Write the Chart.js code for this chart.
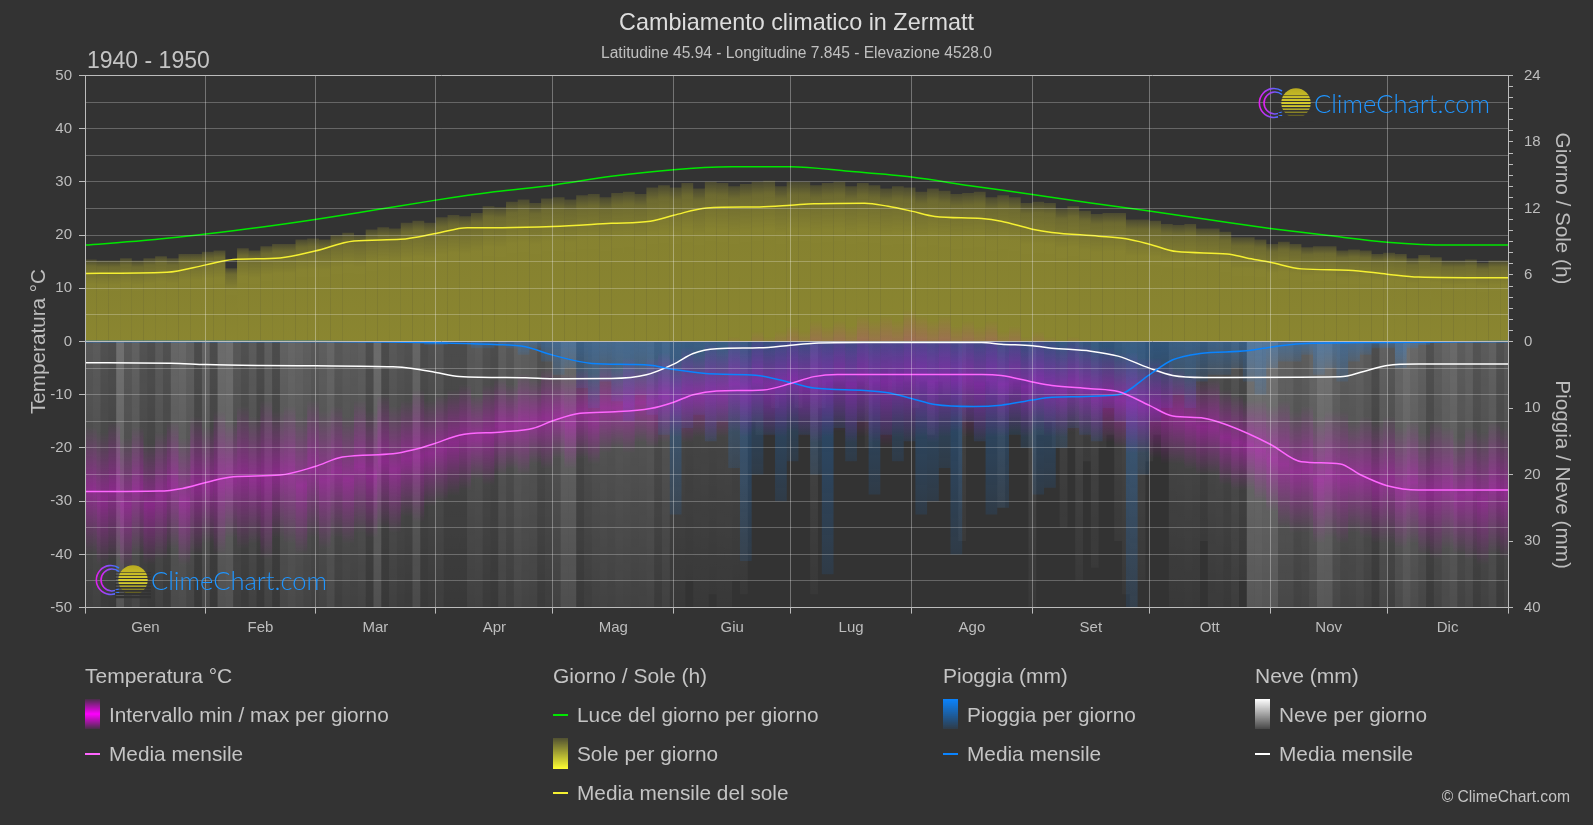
<!DOCTYPE html>
<html>
<head>
<meta charset="utf-8">
<title>Cambiamento climatico in Zermatt</title>
<script src="https://cdn.jsdelivr.net/npm/chart.js@4"></script>
<style>
    html, body { margin: 0; padding: 0; background: #333333; }
    body { width: 1593px; height: 825px; position: relative; overflow: hidden; font-family: "Liberation Sans", Arial, sans-serif; color: #c4c4c4; }
    canvas { position: absolute; left: 0; top: 0; }
    .txt { position: absolute; white-space: nowrap; transform: translateY(-50%); font-size: 20.8px; }
    .head { font-size: 21px; }
    .swatch { position: absolute; width: 15px; }
    .dash { position: absolute; width: 15px; height: 2px; }
    .logo { position: absolute; width: 240px; height: 40px; }
    .logo span { position: absolute; left: 66px; top: 5px; font-family: Lato, sans-serif; font-weight: 300; font-size: 25.5px; color: #1f95ff; white-space: nowrap; }
</style>
</head>
<body>
<canvas id="myChart" width="1593" height="825"></canvas>

<div class="txt" style="left:87px; top:60px; font-size:23px;">1940 - 1950</div>

<div class="logo" id="logoTop" style="left:1248px; top:83px;"></div>
<div class="logo" id="logoBottom" style="left:85px; top:560px;"></div>

<!-- legend -->
<div class="txt head" style="left:85px; top:676px;">Temperatura °C</div>
<div class="swatch" style="left:85px; top:699px; height:30px; background:linear-gradient(rgba(255,0,255,0.1),#ff00ff 50%,rgba(255,0,255,0.1));"></div>
<div class="txt" style="left:109px; top:715px;">Intervallo min / max per giorno</div>
<div class="dash" style="left:85px; top:753px; background:#ff66ff;"></div>
<div class="txt" style="left:109px; top:754px;">Media mensile</div>

<div class="txt head" style="left:553px; top:676px;">Giorno / Sole (h)</div>
<div class="dash" style="left:553px; top:714px; background:#00e600;"></div>
<div class="txt" style="left:577px; top:715px;">Luce del giorno per giorno</div>
<div class="swatch" style="left:553px; top:738px; height:31px; background:linear-gradient(rgba(255,255,50,0.15),#ffff33);"></div>
<div class="txt" style="left:577px; top:754px;">Sole per giorno</div>
<div class="dash" style="left:553px; top:792px; background:#f5f032;"></div>
<div class="txt" style="left:577px; top:793px;">Media mensile del sole</div>

<div class="txt head" style="left:943px; top:676px;">Pioggia (mm)</div>
<div class="swatch" style="left:943px; top:699px; height:30px; background:linear-gradient(#0a84ff,rgba(10,132,255,0.1));"></div>
<div class="txt" style="left:967px; top:715px;">Pioggia per giorno</div>
<div class="dash" style="left:943px; top:753px; background:#0a84ff;"></div>
<div class="txt" style="left:967px; top:754px;">Media mensile</div>

<div class="txt head" style="left:1255px; top:676px;">Neve (mm)</div>
<div class="swatch" style="left:1255px; top:699px; height:30px; background:linear-gradient(#ffffff,rgba(255,255,255,0.1));"></div>
<div class="txt" style="left:1279px; top:715px;">Neve per giorno</div>
<div class="dash" style="left:1255px; top:753px; background:#ffffff;"></div>
<div class="txt" style="left:1279px; top:754px;">Media mensile</div>

<div class="txt" style="right:23px; top:797px; font-size:15.7px;">© ClimeChart.com</div>

<script>
const chartTitle = 'Cambiamento climatico in Zermatt';
const chartSubtitle = 'Latitudine 45.94 - Longitudine 7.845 - Elevazione 4528.0';
const months = ['Gen', 'Feb', 'Mar', 'Apr', 'Mag', 'Giu', 'Lug', 'Ago', 'Set', 'Ott', 'Nov', 'Dic'];
const monthStarts = [0, 31, 59, 90, 120, 151, 181, 212, 243, 273, 304, 334, 365];
const monthMiddles = [15.5, 45, 74.5, 105, 135.5, 166, 196.5, 227.5, 258, 288.5, 319, 349.5];

// daily columns, one value for every 3 days of the year
const tempMax = [
    -16, -17, -15, -18, -16, -19, -17, -15, -18, -14, -16,
    -13, -15, -12, -14, -11, -13, -12, -14, -11, -13,
    -12, -14, -11, -13, -10, -12, -11, -9, -11, -10,
    -9, -8, -10, -8, -7, -8, -6, -7, -5, -6,
    -6, -5, -6, -4, -5, -3, -4, -3, -2, -3,
    -1, -2, 0, -1, 1, 0, 2, 1, 2, 3,
    2, 4, 3, 4, 3, 5, 4, 5, 4, 6,
    5, 4, 5, 3, 4, 3, 4, 2, 3, 1,
    2, 1, 0, 1, 0, -1, -1, -2, -2, -3,
    -3, -4, -5, -6, -7, -7, -9, -10, -11, -11,
    -12, -11, -13, -12, -14, -13, -13, -15, -14, -15,
    -14, -16, -15, -17, -15, -16, -18, -16, -17, -15, -16
];
const tempMin = [
    -40, -42, -41, -43, -40, -42, -41, -39, -42, -40, -38,
    -40, -37, -39, -38, -41, -37, -38, -40, -37, -39,
    -37, -38, -36, -37, -35, -36, -33, -34, -31, -30,
    -29, -28, -26, -27, -25, -24, -25, -23, -24, -22,
    -24, -22, -23, -21, -20, -21, -19, -20, -19, -18,
    -19, -18, -19, -18, -17, -18, -17, -18, -18, -17,
    -18, -19, -18, -17, -19, -18, -19, -20, -18, -19,
    -18, -19, -18, -17, -18, -19, -18, -18, -17, -18,
    -17, -18, -18, -17, -18, -19, -19, -20, -21, -21,
    -22, -23, -23, -24, -25, -25, -27, -28, -28, -30,
    -32, -35, -36, -36, -38, -37, -38, -36, -37, -38,
    -38, -39, -38, -40, -41, -39, -40, -41, -42, -40, -41
];
const sunDaily = [
    7.4, 7.3, 7.3, 7.5, 7.3, 7.5, 7.7, 7.5, 7.9, 7.9, 8.1,
    8.2, 6.6, 8.4, 8.2, 8.6, 8.8, 8.8, 9.2, 9.3, 9.2,
    9.6, 9.8, 9.6, 10.1, 10.3, 10.2, 10.7, 10.9, 10.7, 11.2,
    11.4, 11.3, 11.6, 12.2, 12.1, 12.6, 12.8, 12.5, 12.9, 13.0,
    12.8, 13.2, 13.3, 13.0, 13.4, 13.5, 13.3, 13.9, 14.1, 13.9,
    14.3, 13.8, 14.4, 14.3, 14.0, 14.2, 14.4, 14.5, 14.0, 14.4,
    14.4, 14.1, 14.3, 14.4, 14.0, 14.3, 14.1, 13.8, 14.0, 13.9,
    13.5, 13.8, 13.6, 13.3, 13.4, 13.5, 13.0, 13.2, 13.0, 12.5,
    12.6, 12.5, 12.0, 12.2, 11.8, 11.5, 11.6, 11.6, 11.0, 11.0,
    10.9, 10.6, 10.5, 10.6, 10.2, 10.2, 9.9, 9.4, 9.4, 9.2,
    8.8, 9.0, 8.8, 8.5, 8.6, 8.6, 8.2, 8.3, 8.2, 7.9,
    8.0, 7.9, 7.5, 7.8, 7.6, 7.3, 7.3, 7.4, 7.1, 7.3, 7.3
];
const rainDaily = [
    0, 0, 0, 0, 0, 0, 0, 0, 0, 0,
    0, 0, 0, 0, 0, 0, 0, 0, 0, 0,
    0, 0, 0, 0, 0, 0, 0, 0, 0, 0.5,
    0.5, 0, 0, 1, 1, 0.5, 1, 2, 1, 3,
    5, 4, 7, 10, 6, 9, 12, 8, 11, 14,
    26, 13, 11, 15, 12, 19, 33, 20, 14, 24,
    18, 14, 20, 35, 13, 18, 12, 23, 14, 18,
    15, 26, 24, 19, 32, 12, 15, 26, 25, 14,
    16, 23, 22, 16, 13, 14, 15, 10, 12, 40,
    20, 12, 10, 8, 10, 6, 5, 5, 4, 6,
    8, 4, 3, 3, 2, 5, 4, 6, 3, 2,
    1, 1, 4, 1, 0.5, 0, 0, 0, 0, 0, 0, 0
];
// snow columns, one value for every 2 days of the year
const snowDaily = [
    64, 72, 52, 45, 115, 68, 85, 55, 45, 72, 52, 94, 98, 82, 42, 88, 42, 105, 110, 65,
    52, 72, 42, 78, 42, 85, 94, 88, 78, 68, 78, 94, 65, 75, 72, 78, 45, 105, 42, 68,
    58, 52, 94, 42, 52, 62, 42, 42, 42, 68, 72, 52, 43, 78, 62, 85, 78, 75, 52, 62,
    72, 102, 102, 45, 62, 72, 75, 72, 78, 75, 72, 73, 78, 52, 72, 42, 42, 36, 40, 42,
    38, 40, 42, 36, 38, 12, 14, 8, 10, 8, 8, 10, 6, 38, 10, 6, 6, 6, 6, 6,
    16, 6, 4, 8, 4, 6, 10, 6, 14, 6, 8, 4, 30, 10, 6, 6, 8, 25, 8, 6,
    6, 42, 14, 12, 16, 28, 16, 36, 18, 34, 16, 14, 30, 38, 42, 36, 18, 14, 16, 40,
    42, 46, 42, 30, 48, 52, 40, 60, 36, 118, 122, 115, 122, 88, 88, 72, 78, 95, 122, 118,
    88, 75, 78, 85, 72, 45, 85, 65, 95, 112, 98, 85, 52, 78, 92, 102, 75, 88, 58, 72,
    85, 52, 68
];

// monthly mean curves, read at these days of the year
const tempMeanDays = [0, 19, 25, 31, 38, 50, 59, 66, 79, 84, 90, 96, 107, 115, 120, 127, 136, 145, 151, 156, 162, 174, 181, 187, 193, 230, 235, 243, 248, 258, 265, 273, 279, 287, 293, 304, 312, 322, 327, 334, 342, 365];
const tempMean = [-28.2, -28.1, -27.6, -26.5, -25.4, -25.1, -23.5, -21.7, -21.1, -20.4, -19.1, -17.6, -17, -16.3, -14.9, -13.5, -13.2, -12.6, -11.4, -10, -9.3, -9.1, -7.9, -6.6, -6.2, -6.2, -6.4, -7.6, -8.25, -8.86, -9.4, -12, -14, -14.4, -15.7, -19.3, -22.6, -23, -25, -27.1, -27.9, -27.9];

const daylightDays = [0, 15, 31, 45, 59, 75, 90, 105, 120, 135, 151, 166, 181, 196, 212, 227, 243, 258, 273, 288, 304, 319, 334, 350, 365];
const daylight = [8.7, 9.1, 9.7, 10.3, 11.0, 11.9, 12.75, 13.5, 14.1, 14.9, 15.5, 15.75, 15.77, 15.35, 14.83, 14.05, 13.26, 12.5, 11.76, 11.0, 10.2, 9.55, 8.96, 8.7, 8.7];

const sunMeanDays = [0, 21, 31, 38, 50, 59, 69, 81, 90, 98, 107, 120, 135, 145, 151, 159.5, 173, 181, 187, 200, 206, 212, 218, 230, 235, 243, 248, 260, 267, 273, 280, 293, 298, 304, 312, 324, 334, 342, 365];
const sunMean = [6.14, 6.24, 6.91, 7.39, 7.54, 8.16, 9.07, 9.22, 9.74, 10.27, 10.27, 10.37, 10.66, 10.85, 11.38, 12.05, 12.14, 12.29, 12.43, 12.48, 12.19, 11.76, 11.28, 11.09, 10.85, 10.13, 9.84, 9.5, 9.26, 8.78, 8.11, 7.9, 7.54, 7.15, 6.55, 6.43, 6.07, 5.81, 5.74];

const rainMeanDays = [0, 60, 90, 105, 113, 120, 130, 140, 145, 151, 162, 172, 181, 187, 200, 206, 212, 218, 228, 235, 243, 248, 265, 273, 279, 286, 298, 304, 312, 334, 365];
const rainMean = [0, 0, 0.2, 0.45, 0.8, 2.05, 3.3, 3.45, 3.56, 4.2, 4.9, 5.06, 6.17, 7.0, 7.37, 7.7, 8.57, 9.47, 9.77, 9.57, 8.8, 8.37, 8, 5, 2.75, 1.8, 1.4, 0.85, 0.35, 0.15, 0];

const snowMeanDays = [0, 22, 31, 45, 59, 79, 84, 90, 96, 113, 120, 135, 144, 151, 156, 162, 173, 181, 187, 200, 230, 235, 243, 248, 258, 265, 273, 279, 287, 322, 328, 334, 342, 365];
const snowMean = [3.2, 3.26, 3.46, 3.6, 3.66, 3.8, 4.06, 4.66, 5.26, 5.46, 5.6, 5.56, 5, 3.4, 1.8, 1.1, 0.95, 0.55, 0.25, 0.15, 0.15, 0.4, 0.65, 1.0, 1.45, 2.2, 4, 5.1, 5.4, 5.3, 4.5, 3.6, 3.4, 3.4];

const textColor = '#bdbdbd';
const gridColor = 'rgba(255,255,255,0.25)';
const axisColor = '#bcbcbc';

function toPoints(days, values) {
    return days.map((d, i) => ({ x: d, y: values[i] }));
}

function toColumns(values, step) {
    return values.map((v, i) => ({ x: step * i + step / 2, y: v }));
}

function gradient(context, scaleId, fromValue, toValue, stops) {
    const chart = context.chart;
    if (!chart.chartArea) {
        return 'transparent';
    }
    const scale = chart.scales[scaleId];
    const g = chart.ctx.createLinearGradient(0, scale.getPixelForValue(fromValue), 0, scale.getPixelForValue(toValue));
    stops.forEach(s => g.addColorStop(s[0], s[1]));
    return g;
}

function tempColor(context) {
    const v = context.raw.y;
    return gradient(context, 'y', v[1], v[0], [
        [0, 'rgba(255,0,255,0)'],
        [0.5, 'rgba(255,0,255,0.37)'],
        [1, 'rgba(255,0,255,0)']
    ]);
}

function sunColor(context) {
    return gradient(context, 'ySun', 0, context.raw.y, [
        [0, 'rgba(245,235,45,0.45)'],
        [0.7, 'rgba(245,235,45,0.43)'],
        [0.92, 'rgba(245,235,45,0.3)'],
        [1, 'rgba(245,235,45,0.12)']
    ]);
}

function rainColor(context) {
    return gradient(context, 'yRain', 0, Math.max(context.raw.y, 1), [
        [0, 'rgba(20,135,255,0.32)'],
        [1, 'rgba(20,135,255,0.1)']
    ]);
}

function snowColor(context) {
    const top = Math.min(0.32, 0.02 + 0.3 * context.raw.y / 120);
    return gradient(context, 'yRain', 0, 40, [
        [0, 'rgba(255,255,255,' + top + ')'],
        [1, 'rgba(255,255,255,' + top * top * 1.8 + ')']
    ]);
}

function barSet(data, axis, color, thickness, order) {
    return {
        type: 'bar',
        data: data,
        yAxisID: axis,
        backgroundColor: color,
        borderWidth: 0,
        inflateAmount: 0,
        grouped: false,
        barThickness: thickness,
        order: order
    };
}

function lineSet(data, axis, color) {
    return {
        type: 'line',
        data: data,
        yAxisID: axis,
        borderColor: color,
        borderWidth: 1.5,
        pointRadius: 0,
        cubicInterpolationMode: 'monotone',
        clip: 4,
        order: 0
    };
}

const data = {
    datasets: [
        lineSet(toPoints(tempMeanDays, tempMean), 'y', '#ff66ff'),
        lineSet(toPoints(daylightDays, daylight), 'ySun', '#00e600'),
        lineSet(toPoints(sunMeanDays, sunMean), 'ySun', '#f5f032'),
        lineSet(toPoints(rainMeanDays, rainMean), 'yRain', '#0a84ff'),
        lineSet(toPoints(snowMeanDays, snowMean), 'yRain', '#ffffff'),
        barSet(tempMax.map((v, i) => ({ x: 3 * i + 1.5, y: [tempMin[i], v] })), 'y', tempColor, 11.7, 1),
        barSet(toColumns(rainDaily, 3), 'yRain', rainColor, 11.7, 2),
        barSet(toColumns(snowDaily, 2), 'yRain', snowColor, 7.8, 3),
        barSet(toColumns(sunDaily, 3), 'ySun', sunColor, 11.7, 4)
    ]
};

const tickFont = { family: '"Liberation Sans", Arial, sans-serif', size: 15 };
const titleFont = { family: '"Liberation Sans", Arial, sans-serif', size: 20.7 };

const config = {
    type: 'bar',
    data: data,
    options: {
        responsive: false,
        maintainAspectRatio: false,
        animation: false,
        layout: { padding: { bottom: 177.4 } },
        plugins: {
            legend: { display: false },
            tooltip: { enabled: false },
            title: {
                display: true,
                text: chartTitle,
                color: '#dddddd',
                font: { family: '"Liberation Sans", Arial, sans-serif', size: 23.4, weight: 'normal' },
                padding: { top: 10, bottom: 3 }
            },
            subtitle: {
                display: true,
                text: chartSubtitle,
                color: '#c0c0c0',
                font: { family: '"Liberation Sans", Arial, sans-serif', size: 15.6, weight: 'normal' },
                padding: { top: 3, bottom: 12.6 }
            }
        },
        scales: {
            x: {
                type: 'linear',
                min: 0,
                max: 365,
                offset: false,
                afterBuildTicks: scale => {
                    scale.ticks = monthStarts.concat(monthMiddles).sort((a, b) => a - b).map(v => ({ value: v }));
                },
                afterFit: scale => { scale.height = 40; },
                grid: {
                    offset: false,
                    z: 1,
                    tickLength: 6,
                    color: ctx => monthStarts.includes(ctx.tick.value) ? 'rgba(255,255,255,0.32)' : 'transparent',
                    tickColor: ctx => monthStarts.includes(ctx.tick.value) ? axisColor : 'transparent'
                },
                border: { color: axisColor, z: 1 },
                ticks: {
                    autoSkip: false,
                    maxRotation: 0,
                    color: textColor,
                    font: tickFont,
                    padding: 5,
                    callback: v => {
                        const i = monthMiddles.indexOf(v);
                        return i >= 0 ? months[i] : '';
                    }
                }
            },
            y: {
                min: -50,
                max: 50,
                position: 'left',
                afterFit: scale => { scale.width = 85; },
                title: { display: true, text: 'Temperatura °C', color: textColor, font: titleFont, padding: { top: 26.6, bottom: 0 } },
                grid: {
                    z: 1,
                    tickLength: 6,
                    color: ctx => {
                        if (ctx.tick.value === 0 || Math.abs(ctx.tick.value) === 50) {
                            return axisColor;
                        }
                        return gridColor;
                    },
                    tickColor: ctx => ctx.tick.value % 10 === 0 ? axisColor : 'transparent'
                },
                border: { color: axisColor, z: 1 },
                ticks: {
                    stepSize: 5,
                    autoSkip: false,
                    color: textColor,
                    font: tickFont,
                    padding: 7,
                    callback: v => v % 10 === 0 ? v : ''
                }
            },
            ySun: {
                min: 0,
                max: 24,
                position: 'right',
                stack: 'right',
                stackWeight: 1,
                afterFit: scale => { scale.width = 85; },
                title: { display: true, text: 'Giorno / Sole (h)', color: textColor, font: titleFont, padding: { top: 19, bottom: 0 } },
                grid: { drawOnChartArea: false, tickLength: 5, tickColor: axisColor },
                border: { color: axisColor, z: 1 },
                ticks: {
                    stepSize: 1,
                    autoSkip: false,
                    color: textColor,
                    font: tickFont,
                    padding: 11,
                    callback: v => v % 6 === 0 ? v : ''
                }
            },
            yRain: {
                min: 0,
                max: 40,
                reverse: true,
                position: 'right',
                stack: 'right',
                stackWeight: 1,
                afterFit: scale => { scale.width = 85; },
                title: { display: true, text: 'Pioggia / Neve (mm)', color: textColor, font: titleFont, padding: { top: 19, bottom: 0 } },
                grid: { drawOnChartArea: false, tickLength: 5, tickColor: axisColor },
                border: { color: axisColor, z: 1 },
                ticks: {
                    stepSize: 10,
                    autoSkip: false,
                    color: textColor,
                    font: tickFont,
                    padding: 11,
                    callback: v => v === 0 ? '' : v
                }
            }
        }
    }
};

var myChart = new Chart(document.getElementById('myChart'), config);

// the small ClimeChart mark, used twice
function logoHtml(id) {
    let stripes = '';
    [8, 11, 14, 17, 20, 23, 26, 29, 32].forEach((y, i) => {
        stripes += '<rect x="30" y="' + (y + 4) + '" width="36" height="' + (0.6 + i * 0.2) + '" fill="#333333"/>';
    });
    return '<svg width="66" height="40" style="position:absolute;left:0;top:0">' +
        '<defs>' +
        '<linearGradient id="arc' + id + '" x1="0" x2="1" y1="0" y2="0"><stop offset="0" stop-color="#e020f0"/><stop offset="1" stop-color="#2f7dff"/></linearGradient>' +
        '<linearGradient id="sun' + id + '" x1="0" x2="0" y1="0" y2="1"><stop offset="0" stop-color="#b8aa20"/><stop offset="0.6" stop-color="#d8d030"/><stop offset="1" stop-color="#4a4620"/></linearGradient>' +
        '</defs>' +
        '<path d="M34 8 A14.5 14.5 0 1 0 34 32" fill="none" stroke="url(#arc' + id + ')" stroke-width="1.6"/>' +
        '<path d="M34 11.5 A11 11 0 1 0 34 28.5" fill="none" stroke="url(#arc' + id + ')" stroke-width="1.6"/>' +
        '<circle cx="48" cy="20" r="14.7" fill="url(#sun' + id + ')"/>' + stripes +
        '</svg><span>ClimeChart.com</span>';
}
document.getElementById('logoTop').innerHTML = logoHtml('a');
document.getElementById('logoBottom').innerHTML = logoHtml('b');
</script>
</body>
</html>
